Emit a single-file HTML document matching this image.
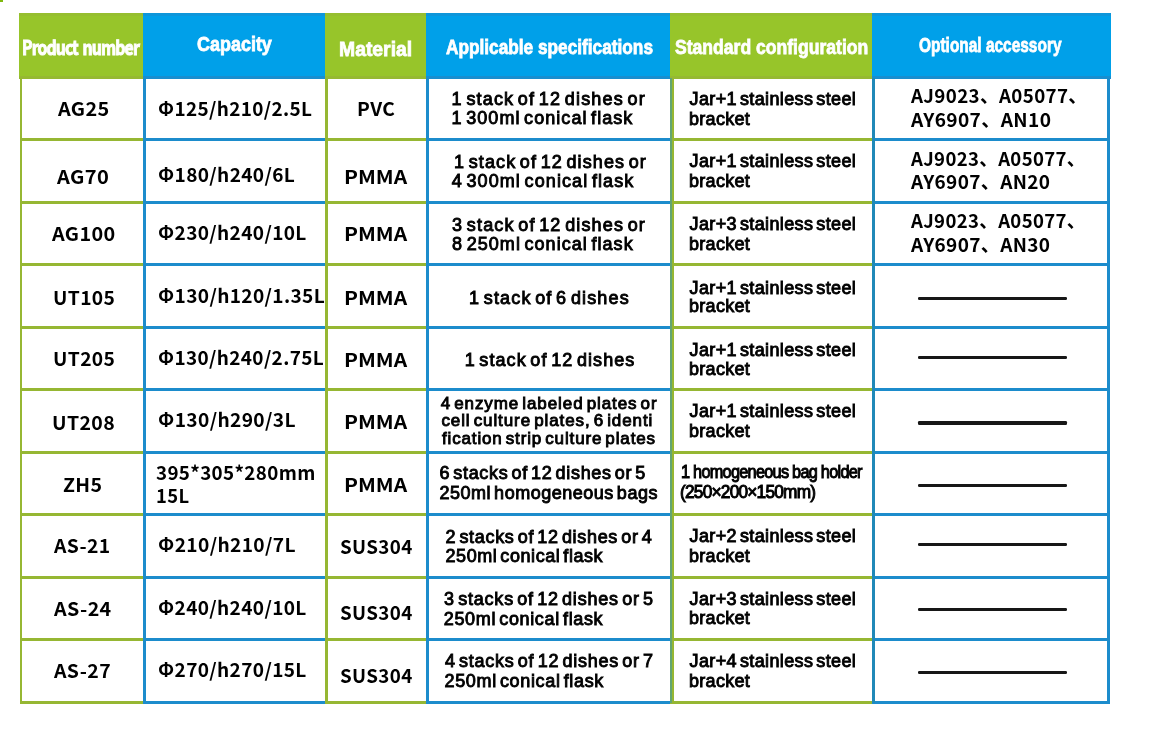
<!DOCTYPE html>
<html><head><meta charset="utf-8"><title>Specifications</title>
<style>
html,body{margin:0;padding:0;background:#fff;}
body{width:1164px;height:731px;position:relative;overflow:hidden;}
div{position:absolute;}
.t{white-space:nowrap;transform-origin:0 0;color:#000;}
.n{font:700 19px/20px 'Noto Sans CJK SC','Liberation Sans',sans-serif;letter-spacing:0.35px;}
.n2{font:700 19px/20px 'Noto Sans CJK SC','Liberation Sans',sans-serif;}
.a{font:400 18px/20px 'Liberation Sans',sans-serif;-webkit-text-stroke:0.9px #000;word-spacing:-2.5px;}
.a6{font:400 17px/20px 'Liberation Sans',sans-serif;-webkit-text-stroke:0.9px #000;word-spacing:-2.5px;}
.c{font:400 18px/20px 'Liberation Sans',sans-serif;-webkit-text-stroke:1px #000;letter-spacing:-0.8px;}
.h{font:700 20.5px/22px 'Liberation Sans',sans-serif;color:#fff;-webkit-text-stroke:0.8px #fff;}
.hn{font:700 19.5px/20px 'Noto Sans CJK SC','Liberation Sans',sans-serif;color:#fff;-webkit-text-stroke:1px #fff;letter-spacing:-1.1px;word-spacing:2.5px;}
</style></head><body><div id="w" style="left:0;top:0;width:1164px;height:731px;filter:blur(0.45px)">
<div style="left:0;top:0;width:3px;height:2px;background:#7fb80e"></div>
<div style="left:18.6px;top:12.5px;width:124.4px;height:66px;background:#97c52a"><div style="left:0;top:0;width:100%;height:3px;background:#96b733;opacity:.5"></div><div style="left:0;bottom:0;width:100%;height:3px;background:#96b733;opacity:.9"></div></div>
<div style="left:143px;top:12.5px;width:182px;height:66px;background:#00a0e9"><div style="left:0;top:0;width:100%;height:3px;background:#1c8ccc;opacity:.5"></div><div style="left:0;bottom:0;width:100%;height:3px;background:#1c8ccc;opacity:.9"></div></div>
<div style="left:325px;top:12.5px;width:101px;height:66px;background:#97c52a"><div style="left:0;top:0;width:100%;height:3px;background:#96b733;opacity:.5"></div><div style="left:0;bottom:0;width:100%;height:3px;background:#96b733;opacity:.9"></div></div>
<div style="left:426px;top:12.5px;width:244px;height:66px;background:#00a0e9"><div style="left:0;top:0;width:100%;height:3px;background:#1c8ccc;opacity:.5"></div><div style="left:0;bottom:0;width:100%;height:3px;background:#1c8ccc;opacity:.9"></div></div>
<div style="left:670px;top:12.5px;width:202px;height:66px;background:#97c52a"><div style="left:0;top:0;width:100%;height:3px;background:#96b733;opacity:.5"></div><div style="left:0;bottom:0;width:100%;height:3px;background:#96b733;opacity:.9"></div></div>
<div style="left:872px;top:12.5px;width:238.5px;height:66px;background:#00a0e9"><div style="left:0;top:0;width:100%;height:3px;background:#1c8ccc;opacity:.5"></div><div style="left:0;bottom:0;width:100%;height:3px;background:#1c8ccc;opacity:.9"></div></div>
<div style="left:19.7px;top:138.20px;width:123.7px;height:2.9px;background:#96b733"></div>
<div style="left:19.7px;top:200.70px;width:123.7px;height:2.9px;background:#96b733"></div>
<div style="left:19.7px;top:263.20px;width:123.7px;height:2.9px;background:#96b733"></div>
<div style="left:19.7px;top:325.70px;width:123.7px;height:2.9px;background:#96b733"></div>
<div style="left:19.7px;top:388.20px;width:123.7px;height:2.9px;background:#96b733"></div>
<div style="left:19.7px;top:450.70px;width:123.7px;height:2.9px;background:#96b733"></div>
<div style="left:19.7px;top:513.20px;width:123.7px;height:2.9px;background:#96b733"></div>
<div style="left:19.7px;top:575.70px;width:123.7px;height:2.9px;background:#96b733"></div>
<div style="left:19.7px;top:638.20px;width:123.7px;height:2.9px;background:#96b733"></div>
<div style="left:19.7px;top:700.70px;width:123.7px;height:2.9px;background:#96b733"></div>
<div style="left:143.4px;top:138.20px;width:181.6px;height:2.9px;background:#1c8ccc"></div>
<div style="left:143.4px;top:200.70px;width:181.6px;height:2.9px;background:#1c8ccc"></div>
<div style="left:143.4px;top:263.20px;width:181.6px;height:2.9px;background:#1c8ccc"></div>
<div style="left:143.4px;top:325.70px;width:181.6px;height:2.9px;background:#1c8ccc"></div>
<div style="left:143.4px;top:388.20px;width:181.6px;height:2.9px;background:#1c8ccc"></div>
<div style="left:143.4px;top:450.70px;width:181.6px;height:2.9px;background:#1c8ccc"></div>
<div style="left:143.4px;top:513.20px;width:181.6px;height:2.9px;background:#1c8ccc"></div>
<div style="left:143.4px;top:575.70px;width:181.6px;height:2.9px;background:#1c8ccc"></div>
<div style="left:143.4px;top:638.20px;width:181.6px;height:2.9px;background:#1c8ccc"></div>
<div style="left:143.4px;top:700.70px;width:181.6px;height:2.9px;background:#1c8ccc"></div>
<div style="left:325.0px;top:138.20px;width:100.7px;height:2.9px;background:#96b733"></div>
<div style="left:325.0px;top:200.70px;width:100.7px;height:2.9px;background:#96b733"></div>
<div style="left:325.0px;top:263.20px;width:100.7px;height:2.9px;background:#96b733"></div>
<div style="left:325.0px;top:325.70px;width:100.7px;height:2.9px;background:#96b733"></div>
<div style="left:325.0px;top:388.20px;width:100.7px;height:2.9px;background:#96b733"></div>
<div style="left:325.0px;top:450.70px;width:100.7px;height:2.9px;background:#96b733"></div>
<div style="left:325.0px;top:513.20px;width:100.7px;height:2.9px;background:#96b733"></div>
<div style="left:325.0px;top:575.70px;width:100.7px;height:2.9px;background:#96b733"></div>
<div style="left:325.0px;top:638.20px;width:100.7px;height:2.9px;background:#96b733"></div>
<div style="left:325.0px;top:700.70px;width:100.7px;height:2.9px;background:#96b733"></div>
<div style="left:425.7px;top:138.20px;width:244.3px;height:2.9px;background:#1c8ccc"></div>
<div style="left:425.7px;top:200.70px;width:244.3px;height:2.9px;background:#1c8ccc"></div>
<div style="left:425.7px;top:263.20px;width:244.3px;height:2.9px;background:#1c8ccc"></div>
<div style="left:425.7px;top:325.70px;width:244.3px;height:2.9px;background:#1c8ccc"></div>
<div style="left:425.7px;top:388.20px;width:244.3px;height:2.9px;background:#1c8ccc"></div>
<div style="left:425.7px;top:450.70px;width:244.3px;height:2.9px;background:#1c8ccc"></div>
<div style="left:425.7px;top:513.20px;width:244.3px;height:2.9px;background:#1c8ccc"></div>
<div style="left:425.7px;top:575.70px;width:244.3px;height:2.9px;background:#1c8ccc"></div>
<div style="left:425.7px;top:638.20px;width:244.3px;height:2.9px;background:#1c8ccc"></div>
<div style="left:425.7px;top:700.70px;width:244.3px;height:2.9px;background:#1c8ccc"></div>
<div style="left:670.0px;top:138.20px;width:201.9px;height:2.9px;background:#96b733"></div>
<div style="left:670.0px;top:200.70px;width:201.9px;height:2.9px;background:#96b733"></div>
<div style="left:670.0px;top:263.20px;width:201.9px;height:2.9px;background:#96b733"></div>
<div style="left:670.0px;top:325.70px;width:201.9px;height:2.9px;background:#96b733"></div>
<div style="left:670.0px;top:388.20px;width:201.9px;height:2.9px;background:#96b733"></div>
<div style="left:670.0px;top:450.70px;width:201.9px;height:2.9px;background:#96b733"></div>
<div style="left:670.0px;top:513.20px;width:201.9px;height:2.9px;background:#96b733"></div>
<div style="left:670.0px;top:575.70px;width:201.9px;height:2.9px;background:#96b733"></div>
<div style="left:670.0px;top:638.20px;width:201.9px;height:2.9px;background:#96b733"></div>
<div style="left:670.0px;top:700.70px;width:201.9px;height:2.9px;background:#96b733"></div>
<div style="left:871.9px;top:138.20px;width:238.4px;height:2.9px;background:#1c8ccc"></div>
<div style="left:871.9px;top:200.70px;width:238.4px;height:2.9px;background:#1c8ccc"></div>
<div style="left:871.9px;top:263.20px;width:238.4px;height:2.9px;background:#1c8ccc"></div>
<div style="left:871.9px;top:325.70px;width:238.4px;height:2.9px;background:#1c8ccc"></div>
<div style="left:871.9px;top:388.20px;width:238.4px;height:2.9px;background:#1c8ccc"></div>
<div style="left:871.9px;top:450.70px;width:238.4px;height:2.9px;background:#1c8ccc"></div>
<div style="left:871.9px;top:513.20px;width:238.4px;height:2.9px;background:#1c8ccc"></div>
<div style="left:871.9px;top:575.70px;width:238.4px;height:2.9px;background:#1c8ccc"></div>
<div style="left:871.9px;top:638.20px;width:238.4px;height:2.9px;background:#1c8ccc"></div>
<div style="left:871.9px;top:700.70px;width:238.4px;height:2.9px;background:#1c8ccc"></div>
<div style="left:19.7px;top:78px;width:2.5px;height:625.1px;background:#96b733"></div>
<div style="left:143.4px;top:78px;width:3px;height:625.1px;background:#1c8ccc"></div>
<div style="left:325.0px;top:78px;width:3.2px;height:625.1px;background:#96b733"></div>
<div style="left:425.7px;top:78px;width:3.4px;height:625.1px;background:#1c8ccc"></div>
<div style="left:670.0px;top:78px;width:4px;height:625.1px;background:#96b733"></div>
<div style="left:871.9px;top:78px;width:3px;height:625.1px;background:#2089b8"></div>
<div style="left:1107.3px;top:78px;width:3px;height:625.1px;background:#1c8ccc"></div>
<div style="left:669.9px;top:78px;width:2.2px;height:625.1px;background:#1c8ccc;opacity:.42"></div>
<div style="left:917.9px;top:296.5px;width:149.3px;height:3.4px;background:#171717;border-radius:1.2px"></div>
<div style="left:917.9px;top:355.6px;width:149.3px;height:3.4px;background:#171717;border-radius:1.2px"></div>
<div style="left:917.9px;top:421.3px;width:149.3px;height:3.4px;background:#171717;border-radius:1.2px"></div>
<div style="left:917.9px;top:483.6px;width:149.3px;height:3.4px;background:#171717;border-radius:1.2px"></div>
<div style="left:917.9px;top:543.0px;width:149.3px;height:3.4px;background:#171717;border-radius:1.2px"></div>
<div style="left:917.9px;top:608.0px;width:149.3px;height:3.4px;background:#171717;border-radius:1.2px"></div>
<div style="left:917.9px;top:670.8px;width:149.3px;height:3.4px;background:#171717;border-radius:1.2px"></div>
<div class="t hn" style="left:21.59px;top:36.80px;transform:scaleX(0.8097)">Product number</div>
<div class="t h" style="left:197.26px;top:33.25px;transform:scaleX(0.8760)">Capacity</div>
<div class="t h" style="left:339.36px;top:37.75px;transform:scaleX(0.9444)">Material</div>
<div class="t h" style="left:446.00px;top:35.75px;transform:scaleX(0.8411)">Applicable specifications</div>
<div class="t h" style="left:675.09px;top:35.75px;transform:scaleX(0.8570)">Standard configuration</div>
<div class="t h" style="left:918.92px;top:34.15px;transform:scaleX(0.7534)">Optional accessory</div>
<div class="t n" style="left:57.70px;top:97.90px;transform:scaleX(1.0458)">AG25</div>
<div class="t n" style="left:57.30px;top:165.80px;transform:scaleX(1.0570)">AG70</div>
<div class="t n" style="left:51.70px;top:223.20px;transform:scaleX(1.0427)">AG100</div>
<div class="t n" style="left:53.23px;top:286.50px;transform:scaleX(1.0129)">UT105</div>
<div class="t n" style="left:53.23px;top:348.20px;transform:scaleX(1.0129)">UT205</div>
<div class="t n" style="left:52.21px;top:411.50px;transform:scaleX(1.0256)">UT208</div>
<div class="t n" style="left:63.23px;top:473.50px;transform:scaleX(1.0290)">ZH5</div>
<div class="t n" style="left:54.00px;top:535.20px;transform:scaleX(1.0185)">AS-21</div>
<div class="t n" style="left:54.00px;top:598.20px;transform:scaleX(1.0356)">AS-24</div>
<div class="t n" style="left:54.00px;top:660.20px;transform:scaleX(1.0267)">AS-27</div>
<div class="t n" style="left:157.50px;top:97.90px;transform:scaleX(0.9971)">Φ125/h210/2.5L</div>
<div class="t n" style="left:158.00px;top:164.20px;transform:scaleX(1.0037)">Φ180/h240/6L</div>
<div class="t n" style="left:158.00px;top:221.50px;transform:scaleX(1.0031)">Φ230/h240/10L</div>
<div class="t n" style="left:158.00px;top:285.20px;transform:scaleX(1.0046)">Φ130/h120/1.35L</div>
<div class="t n" style="left:158.00px;top:346.50px;transform:scaleX(0.9985)">Φ130/h240/2.75L</div>
<div class="t n" style="left:157.99px;top:409.20px;transform:scaleX(1.0089)">Φ130/h290/3L</div>
<div class="t n" style="left:156.21px;top:461.50px;transform:scaleX(0.9893)">395*305*280mm</div>
<div class="t n" style="left:155.85px;top:485.20px;transform:scaleX(0.9688)">15L</div>
<div class="t n" style="left:157.99px;top:533.50px;transform:scaleX(1.0089)">Φ210/h210/7L</div>
<div class="t n" style="left:158.00px;top:596.50px;transform:scaleX(1.0031)">Φ240/h240/10L</div>
<div class="t n" style="left:158.00px;top:658.50px;transform:scaleX(1.0031)">Φ270/h270/15L</div>
<div class="t n" style="left:357.43px;top:97.90px;transform:scaleX(1.0114)">PVC</div>
<div class="t n2" style="left:343.57px;top:165.80px;transform:scaleX(1.1027)">PMMA</div>
<div class="t n2" style="left:343.57px;top:223.20px;transform:scaleX(1.1027)">PMMA</div>
<div class="t n2" style="left:343.57px;top:286.50px;transform:scaleX(1.1027)">PMMA</div>
<div class="t n2" style="left:343.57px;top:349.20px;transform:scaleX(1.1027)">PMMA</div>
<div class="t n2" style="left:343.57px;top:410.80px;transform:scaleX(1.1027)">PMMA</div>
<div class="t n2" style="left:343.57px;top:473.50px;transform:scaleX(1.1027)">PMMA</div>
<div class="t n" style="left:339.96px;top:535.80px;transform:scaleX(0.9895)">SUS304</div>
<div class="t n" style="left:339.96px;top:601.50px;transform:scaleX(0.9895)">SUS304</div>
<div class="t n" style="left:339.96px;top:664.80px;transform:scaleX(0.9895)">SUS304</div>
<div class="t a" style="left:451.60px;top:88.70px;letter-spacing:1.157px">1 stack of 12 dishes or</div>
<div class="t a" style="left:451.60px;top:108.00px;letter-spacing:1.057px">1 300ml conical flask</div>
<div class="t a" style="left:454.00px;top:151.80px;letter-spacing:1.102px">1 stack of 12 dishes or</div>
<div class="t a" style="left:451.70px;top:171.20px;letter-spacing:1.103px">4 300ml conical flask</div>
<div class="t a" style="left:452.05px;top:214.50px;letter-spacing:1.145px">3 stack of 12 dishes or</div>
<div class="t a" style="left:452.05px;top:233.50px;letter-spacing:1.050px">8 250ml conical flask</div>
<div class="t a" style="left:469.00px;top:287.50px;letter-spacing:1.142px">1 stack of 6 dishes</div>
<div class="t a" style="left:464.70px;top:349.50px;letter-spacing:1.082px">1 stack of 12 dishes</div>
<div class="t a6" style="left:440.70px;top:393.80px;letter-spacing:0.910px">4 enzyme labeled plates or</div>
<div class="t a6" style="left:441.45px;top:411.20px;letter-spacing:0.902px">cell culture plates, 6 identi</div>
<div class="t a6" style="left:441.95px;top:428.50px;letter-spacing:0.859px">fication strip culture plates</div>
<div class="t a" style="left:439.50px;top:462.50px;letter-spacing:0.670px">6 stacks of 12 dishes or 5</div>
<div class="t a" style="left:439.50px;top:482.50px;letter-spacing:0.514px">250ml homogeneous bags</div>
<div class="t a" style="left:445.50px;top:526.80px;letter-spacing:0.688px">2 stacks of 12 dishes or 4</div>
<div class="t a" style="left:445.50px;top:546.20px;letter-spacing:0.558px">250ml conical flask</div>
<div class="t a" style="left:444.05px;top:588.50px;letter-spacing:0.796px">3 stacks of 12 dishes or 5</div>
<div class="t a" style="left:443.80px;top:608.50px;letter-spacing:0.653px">250ml conical flask</div>
<div class="t a" style="left:445.00px;top:651.20px;letter-spacing:0.758px">4 stacks of 12 dishes or 7</div>
<div class="t a" style="left:444.50px;top:670.80px;letter-spacing:0.653px">250ml conical flask</div>
<div class="t a" style="left:689.55px;top:88.70px;letter-spacing:0.385px">Jar+1 stainless steel</div>
<div class="t a" style="left:689.05px;top:108.50px;letter-spacing:0.283px">bracket</div>
<div class="t a" style="left:689.55px;top:151.20px;letter-spacing:0.385px">Jar+1 stainless steel</div>
<div class="t a" style="left:689.05px;top:170.80px;letter-spacing:0.283px">bracket</div>
<div class="t a" style="left:689.55px;top:213.50px;letter-spacing:0.385px">Jar+3 stainless steel</div>
<div class="t a" style="left:689.05px;top:233.50px;letter-spacing:0.283px">bracket</div>
<div class="t a" style="left:689.55px;top:277.50px;letter-spacing:0.385px">Jar+1 stainless steel</div>
<div class="t a" style="left:689.05px;top:296.20px;letter-spacing:0.283px">bracket</div>
<div class="t a" style="left:689.55px;top:339.50px;letter-spacing:0.385px">Jar+1 stainless steel</div>
<div class="t a" style="left:689.05px;top:359.20px;letter-spacing:0.283px">bracket</div>
<div class="t a" style="left:689.55px;top:401.20px;letter-spacing:0.385px">Jar+1 stainless steel</div>
<div class="t a" style="left:689.05px;top:420.80px;letter-spacing:0.283px">bracket</div>
<div class="t c" style="left:681.02px;top:461.80px;transform:scaleX(0.9039)">1 homogeneous bag holder</div>
<div class="t c" style="left:679.52px;top:481.80px;transform:scaleX(0.9591)">(250×200×150mm)</div>
<div class="t a" style="left:689.55px;top:526.20px;letter-spacing:0.385px">Jar+2 stainless steel</div>
<div class="t a" style="left:689.05px;top:545.80px;letter-spacing:0.283px">bracket</div>
<div class="t a" style="left:689.55px;top:588.50px;letter-spacing:0.385px">Jar+3 stainless steel</div>
<div class="t a" style="left:689.05px;top:607.80px;letter-spacing:0.283px">bracket</div>
<div class="t a" style="left:689.55px;top:651.20px;letter-spacing:0.385px">Jar+4 stainless steel</div>
<div class="t a" style="left:689.05px;top:670.80px;letter-spacing:0.283px">bracket</div>
<div class="t n" style="left:910.50px;top:84.90px;transform:scaleX(0.9859)">AJ9023、A05077、</div>
<div class="t n" style="left:910.50px;top:108.50px;transform:scaleX(1.0069)">AY6907、AN10</div>
<div class="t n" style="left:911.00px;top:148.20px;transform:scaleX(0.9762)">AJ9023、A05077、</div>
<div class="t n" style="left:911.00px;top:170.80px;transform:scaleX(1.0004)">AY6907、AN20</div>
<div class="t n" style="left:911.00px;top:209.80px;transform:scaleX(0.9762)">AJ9023、A05077、</div>
<div class="t n" style="left:911.00px;top:233.50px;transform:scaleX(1.0004)">AY6907、AN30</div>
</div></body></html>
